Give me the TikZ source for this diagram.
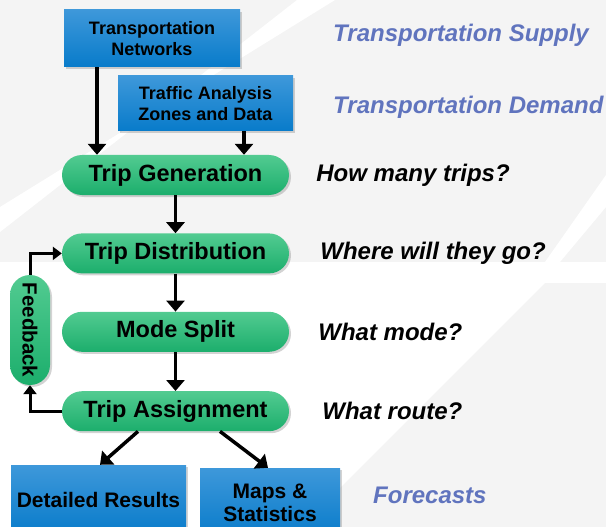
\documentclass[tikz,border=0pt]{standalone}
\usepackage{fontspec}
\setmainfont{Liberation Sans}
\usepackage{tikz}
\usetikzlibrary{positioning,arrows.meta,shadows}

\definecolor{boxtop}{RGB}{62,152,218}
\definecolor{boxbot}{RGB}{8,123,202}
\definecolor{stagetop}{RGB}{82,203,145}
\definecolor{stagebot}{RGB}{28,174,108}
\definecolor{notecol}{RGB}{96,116,190}
\definecolor{backgray}{RGB}{244,244,244}

\tikzset{
	databox/.style={rectangle, top color=boxtop, bottom color=boxbot, align=center,
		drop shadow={opacity=0.35, shadow xshift=2pt, shadow yshift=-2pt}},
	stage/.style={rectangle, rounded corners=20pt, minimum width=227pt, minimum height=40pt,
		top color=stagetop, bottom color=stagebot, font=\bfseries\fontsize{23.5}{26}\selectfont,
		drop shadow={opacity=0.35, shadow xshift=2pt, shadow yshift=-2pt}},
	flow/.style={line width=3.5pt, -{Triangle[width=18pt,length=11pt]}},
	back/.style={line width=3pt, -{Triangle[width=13pt,length=9pt]}},
	note/.style={inner sep=0pt, anchor=west, font=\bfseries\itshape\fontsize{24}{28}\selectfont},
}

\begin{document}
\begin{tikzpicture}[x=1pt, y=-1pt]
			\useasboundingbox (0,0) rectangle (606,527);
			\clip (0,0) rectangle (606,527);
			% background bands
			\fill[backgray] (0,0) rectangle (606,262);
			\fill[white] (0,232) -- (297,0) -- (335,0) -- (0,207) -- cycle;
			\fill[white] (545,262) -- (606,175) -- (606,207) -- (560,262) -- cycle;
			\fill[backgray] (545,283) -- (606,283) -- (606,527) -- (301,527) -- cycle;

			\node (net) [databox, minimum width=176pt, minimum height=57pt,
				font=\bfseries\fontsize{18}{21}\selectfont] at (152,38.5) {Transportation\\Networks};
			\node (taz) [databox, minimum width=175pt, minimum height=55pt,
				font=\bfseries\fontsize{18}{21}\selectfont] at (205.5,103.5) {Traffic Analysis\\Zones and Data};

			\node (gen)    [stage] at (175.5,175)   {Trip Generation};
			\node (dist)   [stage, below=38pt of gen]  {Trip Distribution};
			\node (mode)   [stage, below=38pt of dist] {Mode Split};
			\node (assign) [stage, below=39pt of mode] {Trip Assignment};
			\node (fb)     [stage, rotate=-90, minimum width=110pt, minimum height=40pt,
				font=\bfseries\fontsize{20.5}{22}\selectfont] at (30,330) {Feedback};

			\node (res)  [databox, minimum width=175pt, minimum height=70pt,
				font=\bfseries\fontsize{21}{23}\selectfont] at (98.5,500) {Detailed Results};
			\node (maps) [databox, minimum width=140pt, minimum height=70pt,
				font=\bfseries\fontsize{21}{23}\selectfont] at (270,503) {Maps \&\\Statistics};

			\node (supply)   [note, text=notecol] at (333,35)  {Transportation Supply};
			\node (demand)   [note, text=notecol] at (333,107) {Transportation Demand};
			\node (howmany)  [note, right=27pt of gen]    {How many trips?};
			\node (where)    [note, right=31pt of dist]   {Where will they go?};
			\node (whatmode) [note, right=29pt of mode]   {What mode?};
			\node (route)    [note, right=33pt of assign] {What route?};
			\node (fcast)    [note, text=notecol] at (373,495) {Forecasts};

			\draw[flow] ([xshift=-55pt]net.south) -- ([xshift=-78.5pt]gen.north);
			\draw[flow] ([xshift=38.5pt]taz.south) -- ([xshift=68.5pt]gen.north);
			\draw[flow] (gen) -- (dist);
			\draw[flow] (dist) -- (mode);
			\draw[flow] (mode) -- (assign);
			\draw[back] (assign.west) -| (fb);
			\draw[back] (fb) |- (dist.west);
			\draw[flow] ([xshift=-37.5pt]assign.south) -- ([xshift=1.5pt]res.north);
			\draw[flow] ([xshift=44.5pt]assign.south) -- ([xshift=-2pt]maps.north);
		\end{tikzpicture}
\end{document}
